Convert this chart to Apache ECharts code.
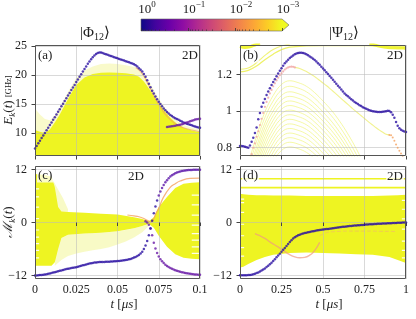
<!DOCTYPE html>
<html><head><meta charset="utf-8">
<script src="https://cdn.jsdelivr.net/npm/echarts/dist/echarts.min.js"></script>
<style>html,body{margin:0;padding:0;background:#fff}#c{width:416px;height:319px}</style>
</head><body><div id="c"></div><script>
// ---------- sample times ----------
function seq(n, step, start) { start = start || 0; return Array.from({length: n}, (_, i) => +((start + i * step).toFixed(4))); }
const tFast = seq(101, 0.001);   // panels (a),(c): t in [0, 0.1] us
const tSlow = seq(101, 0.01);    // panels (b),(d): t in [0, 1] us

// ---------- panel (a): E_k(t) [GHz] ----------
const aMain = [7.3,7.75,8.2,8.65,9.1,9.55,10.0,10.45,10.9,11.35,
  11.8,12.25,12.7,13.2,13.65,14.1,14.6,15.05,15.5,16.0,
  16.45,16.9,17.4,17.85,18.3,18.8,19.25,19.7,20.15,20.6,
  21.05,21.5,21.95,22.35,22.75,23.1,23.4,23.65,23.8,23.9,
  23.9,23.8,23.7,23.6,23.5,23.4,23.3,23.2,23.1,23.0,
  22.9,22.8,22.7,22.6,22.5,22.4,22.3,22.2,22.1,22.0,
  21.85,21.7,21.5,21.2,20.9,20.6,20.2,19.7,19.1,18.5,
  17.9,17.3,16.8,16.3,15.8,15.4,15.0,14.6,14.2,13.9,
  13.6,13.35,13.1,12.9,12.7,12.55,12.4,12.25,12.1,11.95,
  11.8,11.7,11.6,11.5,11.4,11.3,11.2,11.1,11.0,10.95,10.9];
const aBranchStart = 0.080;
const aBranch = [11.0,11.05,11.1,11.15,11.2,11.25,11.3,11.35,11.4,11.5,11.6,11.7,11.8,11.9,12.0,12.1,12.2,12.3,12.35,12.4,12.45];
const aOrange = [[0.061,21.3],[0.064,20.6],[0.067,19.3],[0.07,17.6],[0.074,15.4],[0.078,13.6],[0.082,12.3],[0.086,11.4],[0.09,10.9],[0.095,10.5],[0.1,10.2]];
const aEnvT = [0,0.003,0.006,0.009,0.012,0.015,0.018,0.021,0.025,0.03,0.035,0.04,0.045,0.05,0.055,0.06,0.063,0.066,0.07,0.074,0.078,0.082,0.086,0.09,0.095,0.1];
const aDenseTop = [10.5,10.2,10.0,10.6,11.8,13.2,14.8,16.4,18.3,19.6,20.2,20.4,20.45,20.4,20.3,20.1,19.7,18.9,17.3,15.5,13.9,12.6,11.6,10.9,10.4,10.1];
const aFaintTop = [14.2,13.2,12.4,12.2,13.0,14.4,16.0,17.6,19.5,20.8,21.5,21.9,22.0,21.9,21.7,21.4,21.0,20.2,18.4,16.4,14.6,13.2,12.1,11.4,10.9,10.6];

// ---------- panel (b): E_k(t) ----------
const bMain = [0.810,0.810,0.808,0.806,0.803,0.800,0.812,0.833,0.855,0.880,
  0.910,0.955,0.990,1.023,1.045,1.066,1.087,1.106,1.124,1.142,
  1.158,1.174,1.190,1.205,1.219,1.233,1.247,1.260,1.270,1.280,
  1.289,1.296,1.303,1.309,1.314,1.317,1.318,1.318,1.316,1.313,
  1.309,1.304,1.298,1.292,1.285,1.278,1.270,1.261,1.252,1.242,
  1.232,1.222,1.212,1.202,1.191,1.181,1.170,1.160,1.149,1.138,
  1.128,1.117,1.106,1.096,1.088,1.080,1.072,1.064,1.057,1.050,
  1.044,1.038,1.032,1.027,1.021,1.016,1.012,1.008,1.005,1.002,
  0.999,0.997,0.996,0.995,0.995,0.995,0.996,0.997,0.999,1.001,
  1.000,0.993,0.980,0.963,0.940,0.920,0.906,0.898,0.892,0.888,0.886];
const bPinkStart = 0.07;
const bPink = [0.765,0.80,0.824,0.86,0.89,0.924,0.958,0.99,1.023,1.05,1.073,1.096,1.115,1.135,1.151,1.167,1.182,1.195,1.205,1.216,1.226,1.233,1.238,1.241,1.242,1.241,1.238];
const bSecond = [[0.33,1.238],[0.36,1.232],[0.38,1.224],[0.40,1.215],[0.42,1.205],[0.44,1.194],[0.46,1.181],[0.48,1.167],[0.50,1.153],[0.52,1.139],[0.54,1.124],[0.56,1.108],[0.58,1.092],[0.60,1.076],[0.62,1.060],[0.64,1.044],[0.66,1.028],[0.68,1.012],[0.70,0.997],[0.72,0.982],[0.74,0.967],[0.76,0.952],[0.78,0.937],[0.80,0.923],[0.82,0.909],[0.84,0.896],[0.86,0.884],[0.88,0.873],[0.90,0.870]];
const bSecondEnd = [[0.90,0.870],[0.91,0.868],[0.92,0.856],[0.93,0.838],[0.94,0.818],[0.95,0.800],[0.96,0.783],[0.97,0.768],[0.98,0.756],[0.99,0.746]];
const bTop1 = [[0,1.214],[0.05,1.222],[0.1,1.245],[0.15,1.28],[0.2,1.31],[0.25,1.335],[0.3,1.348],[0.4,1.355],[0.5,1.357],[0.6,1.357],[0.7,1.357],[0.8,1.355],[0.9,1.352],[1,1.35]];
const bTop2 = [[0,1.228],[0.04,1.232],[0.08,1.25],[0.12,1.28],[0.16,1.31],[0.2,1.335],[0.25,1.355],[0.3,1.365]];
const bTopL = [[0,1.352],[0.03,1.346],[0.06,1.35],[0.09,1.36],[0.12,1.37]];
const bTopR = [[0.78,1.37],[0.83,1.355],[0.88,1.347],[0.93,1.343],[0.97,1.342],[1,1.342]];
const bArcT = [0.05,0.1,0.15,0.2,0.25,0.3,0.35,0.4,0.45,0.5,0.55,0.6,0.65,0.7,0.75];
const bArcs = [
  [0.715,0.865,0.995,1.085,1.145,1.165,1.155,1.135,1.10,1.055,1.005,0.945,0.875,0.795,0.705],
  [0.685,0.835,0.965,1.055,1.115,1.135,1.125,1.105,1.07,1.025,0.975,0.915,0.845,0.765,0.675],
  [0.655,0.805,0.935,1.025,1.085,1.105,1.095,1.075,1.04,0.995,0.945,0.885,0.815,0.735,0.645],
  [0.63,0.78,0.91,1.0,1.06,1.08,1.07,1.05,1.015,0.97,0.92,0.86,0.79,0.71,0.62],
  [0.605,0.755,0.885,0.975,1.035,1.055,1.045,1.025,0.99,0.945,0.895,0.835,0.765,0.685,0.595],
  [0.58,0.73,0.86,0.95,1.01,1.03,1.02,1.0,0.965,0.92,0.87,0.81,0.74,0.66,0.57],
  [0.555,0.705,0.835,0.925,0.985,1.005,0.995,0.975,0.94,0.895,0.845,0.785,0.715,0.635,0.545],
  [0.53,0.68,0.81,0.9,0.96,0.98,0.97,0.95,0.915,0.87,0.82,0.76,0.69,0.61,0.52],
  [0.505,0.655,0.785,0.875,0.935,0.955,0.945,0.925,0.89,0.845,0.795,0.735,0.665,0.585,0.495],
  [0.48,0.63,0.76,0.85,0.91,0.93,0.92,0.9,0.865,0.82,0.77,0.71,0.64,0.56,0.47],
  [0.455,0.605,0.735,0.825,0.885,0.905,0.895,0.875,0.84,0.795,0.745,0.685,0.615,0.535,0.445],
  [0.43,0.58,0.71,0.8,0.86,0.88,0.87,0.85,0.815,0.77,0.72,0.66,0.59,0.51,0.42],
  [0.405,0.555,0.685,0.775,0.835,0.855,0.845,0.825,0.79,0.745,0.695,0.635,0.565,0.485,0.395],
  [0.38,0.53,0.66,0.75,0.81,0.83,0.82,0.80,0.765,0.72,0.67,0.61,0.54,0.46,0.37],
  [0.355,0.505,0.635,0.725,0.785,0.805,0.795,0.775,0.74,0.695,0.645,0.585,0.515,0.435,0.345]
];

// ---------- panel (c): M_k(t) ----------
const cMain = [-12.0,-11.98,-11.95,-11.92,-11.88,-11.83,-11.77,-11.7,-11.62,-11.53,
  -11.44,-11.35,-11.25,-11.15,-11.05,-10.95,-10.85,-10.75,-10.65,-10.55,
  -10.48,-10.4,-10.33,-10.26,-10.2,-10.12,-10.03,-9.93,-9.82,-9.7,
  -9.6,-9.5,-9.4,-9.3,-9.22,-9.15,-9.09,-9.04,-9.0,-8.97,
  -8.95,-8.95,-8.95,-8.9,-8.9,-8.9,-8.85,-8.85,-8.8,-8.8,
  -8.75,-8.7,-8.65,-8.6,-8.55,-8.5,-8.45,-8.35,-8.25,-8.1,
  -7.95,-7.8,-7.6,-7.35,-7.0,-6.6,-6.0,-5.2,-4.2,-2.9,
  -1.3,0.4,2.1,3.6,5.0,6.1,7.0,7.8,8.5,9.1,
  9.6,10.05,10.4,10.7,10.95,11.15,11.3,11.45,11.55,11.65,
  11.72,11.78,11.83,11.87,11.9,11.92,11.94,11.95,11.96,11.97,11.97];
const cDownStart = 0.067;
const cDown = [0.3,0.0,-0.5,-1.4,-2.9,-4.6,-5.9,-6.9,-7.7,-8.3,-8.8,-9.2,-9.55,-9.85,-10.1,-10.3,-10.5,-10.65,-10.8,-10.95,-11.05,-11.15,-11.25,-11.35,-11.42,-11.5,-11.56,-11.62,-11.67,-11.72,-11.76,-11.8,-11.83,-11.85];
const cOrange = [[0.056,1.7],[0.06,1.5],[0.063,1.3],[0.066,0.9],[0.068,0.5],[0.0705,0.1],[0.072,0.9],[0.0735,2.2],[0.075,3.2],[0.0778,5.7],[0.0818,7.9],[0.085,8.8],[0.0879,9.4],[0.094,10.0],[0.1,10.05]];
const cEnvT = [0,0.005,0.010,0.012,0.014,0.016,0.02,0.03,0.04,0.05,0.06,0.065,0.069,0.072,0.075,0.08,0.085,0.09,0.095,0.1];
const cLow = [-9.8,-9.8,-9.8,-9.0,-6.0,-3.5,-2.8,-2.5,-2.3,-2.0,-1.3,-0.8,-0.3,-1.2,-3.0,-5.5,-7.2,-8.0,-8.2,-8.3];
const cHigh = [11.0,10.8,10.4,8.0,3.5,2.5,2.4,2.2,2.0,1.8,1.2,0.8,0.3,1.2,3.5,5.8,7.8,8.8,9.0,9.1];
const cFanT = [0.012,0.016,0.02,0.025,0.03,0.035,0.04,0.045,0.05,0.055,0.06,0.065,0.069];
const cFanLow = [-9.8,-8.5,-7.6,-7.0,-6.6,-6.3,-6.0,-5.6,-5.0,-4.3,-3.4,-2.2,-0.8];
const cFanHigh = [-6.0,-3.5,-2.8,-2.6,-2.5,-2.4,-2.3,-2.15,-2.0,-1.7,-1.3,-0.8,-0.3];
const cFan2T = [0.011,0.014,0.017,0.02];
const cFan2Low = [2.4,2.4,2.4,2.4];
const cFan2High = [9.5,7.5,5.5,3.0];
const cGapsLeft = [7.6, 5.8, 3.5, 0.9, -1.7, -3.3, -4.8, -6.3, -8.0];
const cGapsRight = [6.2, 4.0, 1.65, -0.6, -2.5, -4.0, -5.5, -7.0];

// ---------- panel (d): M_k(t) ----------
const dMain = [-11.95,-11.95,-11.95,-11.94,-11.93,-11.92,-11.9,-11.85,-11.75,-11.6,
  -11.45,-11.3,-11.1,-10.9,-10.65,-10.4,-10.1,-9.8,-9.45,-9.1,
  -8.7,-8.3,-7.9,-7.5,-7.1,-6.65,-6.2,-5.75,-5.3,-4.85,
  -4.4,-4.0,-3.65,-3.35,-3.1,-2.9,-2.75,-2.62,-2.5,-2.4,
  -2.3,-2.22,-2.15,-2.05,-1.98,-1.9,-1.84,-1.78,-1.72,-1.66,
  -1.6,-1.55,-1.5,-1.45,-1.4,-1.35,-1.3,-1.25,-1.2,-1.14,
  -1.09,-1.04,-0.99,-0.95,-0.9,-0.86,-0.82,-0.78,-0.74,-0.7,
  -0.66,-0.63,-0.6,-0.57,-0.54,-0.51,-0.48,-0.45,-0.42,-0.39,
  -0.37,-0.35,-0.33,-0.31,-0.29,-0.27,-0.25,-0.23,-0.21,-0.19,
  -0.17,-0.15,-0.13,-0.11,-0.09,-0.07,-0.05,-0.04,-0.02,-0.01,0.0];
const dOrange = [[0.09,-2.5],[0.12,-3.0],[0.15,-3.6],[0.18,-4.4],[0.21,-5.1],[0.24,-5.8],[0.27,-6.6],[0.30,-7.3],[0.33,-7.8],[0.36,-8.0],[0.39,-7.9],[0.42,-7.4],[0.44,-6.8],[0.46,-5.8],[0.48,-4.5]];
const dDash = [[0.48,-3.0],[0.52,-2.3],[0.56,-2.1],[0.6,-2.0],[0.65,-1.95],[0.7,-1.95],[0.75,-1.95],[0.8,-1.95],[0.85,-2.0],[0.9,-2.0],[0.94,-2.05]];
const dEnvT = [0,0.02,0.05,0.1,0.15,0.2,0.3,0.4,0.5,0.6,0.7,0.8,0.9,0.95,1.0];
const dLow = [-10.2,-10.0,-9.4,-8.5,-7.8,-7.3,-6.9,-6.8,-6.9,-7.0,-7.2,-7.3,-7.8,-8.5,-9.2];
const dHigh = [6.5,6.4,6.3,6.2,6.2,6.1,6.1,6.0,6.0,6.0,6.0,6.0,6.1,6.2,6.3];
const dLevels = [9.9, 7.9];
const dGapsLeft = [5.3, 4.5, 2.3, -0.4, -3.0, -5.7, -7.6];
const dGapsRight = [5.0, 3.0, 0.8, -1.5, -4.2, -6.3, -8.0];

// ---------- ticks ----------
const yTicksA = [10, 15, 20, 25];
const yTicksB = [0.8, 1, 1.2];
const yTicksM = [-12, 0, 12];

// ---------- helpers ----------
const SERIF = "'Liberation Serif','DejaVu Serif',serif";
const BLUE = '#2b10a2', PURPLE = '#6a1aa8', YEL = '#eef422', PALE = '#f4f6a0', ORANGE = '#f4a05e', PINK = '#f0a2a0';
function zip(ts, vs) { return vs.map((v, i) => [ts[i], v]); }
function band(gi, ts, lo, hi, color, opacity, yMin) {
  return { type: 'custom', xAxisIndex: gi, yAxisIndex: gi, silent: true, clip: true, z: 1,
    data: [[ts[0], hi[0]]],
    renderItem: function (params, api) {
      const pts = [];
      for (let i = 0; i < ts.length; i++) pts.push(api.coord([ts[i], hi[i]]));
      for (let i = ts.length - 1; i >= 0; i--) pts.push(api.coord([ts[i], lo ? lo[i] : yMin]));
      return { type: 'polygon', shape: { points: pts }, style: { fill: color, opacity: opacity } };
    } };
}
function line(gi, pairs, color, width, opacity, dash, smooth) {
  return { type: 'line', xAxisIndex: gi, yAxisIndex: gi, data: pairs, symbol: 'none', showSymbol: false,
    smooth: smooth === undefined ? 0.4 : smooth, silent: true, clip: true, z: 2,
    lineStyle: { color: color, width: width, opacity: opacity, type: dash || 'solid' } };
}
function gaps(gi, levels, t0, t1) {
  return levels.map(l => Object.assign(line(gi, [[t0, l], [t1, l]], '#ffffff', 1.2, 0.9, null, false), { z: 1.5 }));
}
function dots(gi, pairs, color, size) {
  return { type: 'scatter', xAxisIndex: gi, yAxisIndex: gi, data: pairs, symbolSize: size || 2.5, silent: true, clip: true, z: 6,
    itemStyle: { color: color } };
}
const axLab = { fontFamily: SERIF, fontSize: 12, color: '#222' };
const split = { show: true, lineStyle: { color: 'rgba(185,185,185,0.55)', width: 1 } };
function xAx(gi, max, interval, labels) {
  return { type: 'value', gridIndex: gi, min: 0, max: max, interval: interval, z: 4,
    axisLine: { show: false }, axisTick: { show: true, length: 3.5, lineStyle: { color: '#444' } },
    axisLabel: Object.assign({ show: labels, margin: 5 }, axLab), splitLine: split };
}
function fmt(v) { return (v < 0 ? '\u2212' : '') + Math.abs(v); }
function yAx(gi, min, max, ticks) {
  return { type: 'value', gridIndex: gi, min: min, max: max, z: 4,
    axisLine: { show: false }, axisTick: { show: true, length: 3.5, customValues: ticks, lineStyle: { color: '#444' } },
    axisLabel: Object.assign({ customValues: ticks, formatter: fmt, margin: 8 }, axLab), splitLine: split };
}

const grids = [
  { left: 35, top: 45, width: 165, height: 111 },
  { left: 240, top: 45, width: 166, height: 111 },
  { left: 35, top: 166, width: 165, height: 113 },
  { left: 240, top: 166, width: 166, height: 113 },
  { left: 141, top: 19, width: 141, height: 12 }
];

const series = [];
// (a)
series.push(band(0, aEnvT, null, aFaintTop, PALE, 0.55, 6));
series.push(band(0, aEnvT, null, aDenseTop, YEL, 1, 6));
series.push(line(0, aOrange, ORANGE, 1.1, 0.7));
series.push(dots(0, zip(tFast, aMain), BLUE));
series.push(dots(0, zip(seq(aBranch.length, 0.001, aBranchStart), aBranch), PURPLE));
// (b)
bArcs.forEach(a => series.push(line(1, zip(bArcT, a), '#eff36a', 1.0, 0.6)));
series.push(line(1, bTop1, '#ecf056', 1.2, 0.9));
series.push(line(1, bTop2, '#ecf056', 1.1, 0.8));
series.push(line(1, bTopL, YEL, 3, 0.9));
series.push(line(1, bTopR, YEL, 3, 0.9));
series.push(line(1, bSecond, '#eef07a', 1.1, 0.85));
series.push(dots(1, bSecondEnd, ORANGE, 2));
series.push(dots(1, zip(seq(bPink.length, 0.01, bPinkStart), bPink), PINK, 2.2));
series.push(dots(1, zip(tSlow, bMain), BLUE));
// (c)
series.push(band(2, cFanT, cFanLow, cFanHigh, PALE, 0.6));
series.push(band(2, cFan2T, cFan2Low, cFan2High, PALE, 0.6));
series.push(band(2, cEnvT, cLow, cHigh, YEL, 1));
gaps(2, cGapsLeft, 0, 0.0025).forEach(s => series.push(s));
gaps(2, cGapsRight, 0.095, 0.1).forEach(s => series.push(s));
series.push(line(2, cOrange, ORANGE, 1.2, 0.8));
series.push(dots(2, zip(seq(cDown.length, 0.001, cDownStart), cDown), PURPLE));
series.push(Object.assign(dots(2, zip(tFast, cMain), BLUE), { itemStyle: { color: p => p.data[0] > 0.074 ? '#5c18aa' : BLUE } }));
// (d)
series.push(band(3, dEnvT, dLow, dHigh, YEL, 1));
gaps(3, dGapsLeft, 0, 0.025).forEach(s => series.push(s));
gaps(3, dGapsRight, 0.975, 1).forEach(s => series.push(s));
dLevels.forEach(l => series.push(line(3, [[0, l], [1, l]], YEL, 1.6, 1, null, false)));
series.push(line(3, dOrange, '#f09a80', 1.4, 0.7));
series.push(line(3, dDash, '#f4a880', 1, 0.5, 'dashed'));
series.push(dots(3, zip(tSlow, dMain), BLUE));

// ---------- graphics ----------
const rich13 = {
  i: { fontFamily: SERIF, fontStyle: 'italic', fontSize: 13, lineHeight: 16, verticalAlign: 'middle', fill: '#222' },
  n: { fontFamily: SERIF, fontSize: 13, lineHeight: 16, verticalAlign: 'middle', fill: '#222' },
  sb: { fontFamily: SERIF, fontStyle: 'italic', fontSize: 9, lineHeight: 16, verticalAlign: 'bottom', fill: '#222' },
  s: { fontFamily: SERIF, fontSize: 8.5, lineHeight: 16, verticalAlign: 'middle', fill: '#222' }
};
const richT = {
  n: { fontFamily: SERIF, fontSize: 15, lineHeight: 18, verticalAlign: 'middle', fill: '#222' },
  sb: { fontFamily: SERIF, fontSize: 10, lineHeight: 18, verticalAlign: 'bottom', fill: '#222' }
};
function txt(x, y, text, align) {
  return { type: 'text', x: x, y: y, z: 110, silent: true,
    style: { text: text, fontFamily: SERIF, fontSize: 13, fill: '#222', align: align, verticalAlign: 'middle' } };
}
function richTxt(x, y, text, rich, rot) {
  return { type: 'text', x: x, y: y, rotation: rot || 0, z: 110, silent: true,
    style: { text: text, rich: rich, align: 'center', verticalAlign: 'middle' } };
}
const graphic = [];
grids.slice(0, 4).forEach(g => graphic.push({ type: 'rect', z: 100, silent: true,
  shape: { x: g.left + 0.5, y: g.top + 0.5, width: g.width - 1, height: g.height - 1 },
  style: { fill: 'none', stroke: '#555', lineWidth: 1 } }));
const lblBg = { backgroundColor: 'rgba(255,255,255,0.75)', padding: [0, 1] };
function panelLbl(x, y, t, align) { const o = txt(x, y, t, align); Object.assign(o.style, lblBg); return o; }
graphic.push(panelLbl(37, 56, '(a)', 'left'), panelLbl(199, 56, '2D', 'right'));
graphic.push(panelLbl(242, 56, '(b)', 'left'), panelLbl(404, 56, '2D', 'right'));
graphic.push(panelLbl(37, 176, '(c)', 'left'), panelLbl(136, 177, '2D', 'center'));
graphic.push(panelLbl(242, 176, '(d)', 'left'), panelLbl(404, 177, '2D', 'right'));
graphic.push(richTxt(95, 33, '{n|\u007C\u03A6}{sb|12}{n|\u27E9}', richT));
graphic.push(richTxt(344, 33, '{n|\u007C\u03A8}{sb|12}{n|\u27E9}', richT));
graphic.push(richTxt(9, 100, '{i|E}{sb|k}{n|(}{i|t}{n|)} {s|[GHz]}', rich13, Math.PI / 2));
graphic.push(richTxt(9, 222, '{i|\u2133}{sb|k}{n|(}{i|t}{n|)}', rich13, Math.PI / 2));
graphic.push(richTxt(124, 305, '{i|t} {n|[}{i|\u03BCs}{n|]}', rich13));
graphic.push(richTxt(329, 305, '{i|t} {n|[}{i|\u03BCs}{n|]}', rich13));
// colorbar
const plasma = ['#0d0887','#41049d','#6a00a8','#8f0da4','#b12a90','#cc4778','#e16462','#f2844b','#fca636','#fcce25','#f0f921'];
const cb = grids[4];
graphic.push({ type: 'rect', z: 90, silent: true, shape: { x: cb.left, y: cb.top, width: cb.width, height: cb.height },
  style: { fill: new echarts.graphic.LinearGradient(0, 0, 1, 0, plasma.map((c, i) => ({ offset: i / (plasma.length - 1), color: c }))) } });
graphic.push({ type: 'polygon', z: 90, silent: true,
  shape: { points: [[cb.left + cb.width, cb.top], [cb.left + cb.width + 7, cb.top + cb.height / 2], [cb.left + cb.width, cb.top + cb.height]] },
  style: { fill: '#f0f921' } });
graphic.push({ type: 'polyline', z: 91, silent: true,
  shape: { points: [[cb.left, cb.top], [cb.left + cb.width, cb.top], [cb.left + cb.width + 7, cb.top + cb.height / 2], [cb.left + cb.width, cb.top + cb.height], [cb.left, cb.top + cb.height], [cb.left, cb.top]] },
  style: { fill: 'none', stroke: '#666', lineWidth: 0.6 } });

const option = {
  animation: false,
  grid: grids,
  xAxis: [xAx(0, 0.1, 0.025, false), xAx(1, 1, 0.25, false), xAx(2, 0.1, 0.025, true), xAx(3, 1, 0.25, true),
    { type: 'log', gridIndex: 4, min: 0.001, max: 1, inverse: true, position: 'top', z: 95,
      axisLine: { show: false }, splitLine: { show: false },
      axisTick: { show: true, length: 3, lineStyle: { color: '#333', width: 0.8 } },
      minorTick: { show: true, splitNumber: 9, length: 1.6, lineStyle: { color: '#333', width: 0.6 } },
      axisLabel: { margin: 3, padding: [0, 0, 0, 12],
        formatter: v => { const e = Math.round(Math.log10(v)); return '{b|10}{e|' + (e === 0 ? '0' : '\u2212' + (-e)) + '}'; },
        rich: { b: { fontFamily: SERIF, fontSize: 13, lineHeight: 16, verticalAlign: 'bottom', color: '#222' },
                e: { fontFamily: SERIF, fontSize: 9, lineHeight: 16, verticalAlign: 'top', color: '#222' } } } }],
  yAxis: [yAx(0, 6, 25.2, yTicksA), yAx(1, 0.755, 1.36, yTicksB), yAx(2, -12.8, 12.8, yTicksM), yAx(3, -12.8, 12.8, yTicksM),
    { type: 'value', gridIndex: 4, show: false, min: 0, max: 1 }],
  series: series,
  graphic: graphic
};
const chart = echarts.init(document.getElementById('c'), null, { renderer: 'canvas' });
chart.setOption(option);
</script></body></html>
